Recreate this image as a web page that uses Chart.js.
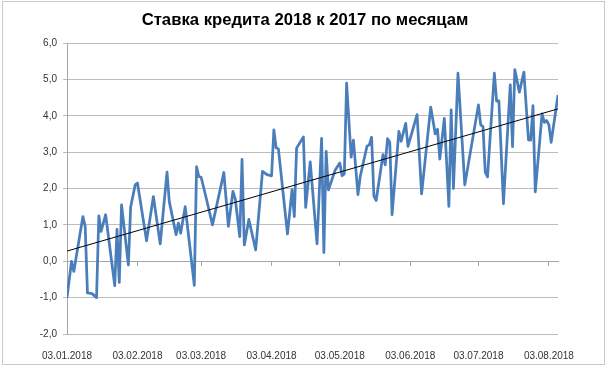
<!DOCTYPE html>
<html>
<head>
<meta charset="utf-8">
<script src="https://cdn.jsdelivr.net/npm/chart.js@4/dist/chart.umd.min.js"></script>
<style>
  html,body{margin:0;padding:0;background:#fff;}
  #wrap{position:relative;width:610px;height:374px;}
  #frame{position:absolute;left:2px;top:1px;width:601px;height:362px;border:1px solid #c8c8c8;}
  #chart{position:absolute;left:0;top:0;}
</style>
</head>
<body>
<div id="wrap">
  <div id="frame"></div>
  <canvas id="chart" width="610" height="374"></canvas>
</div>
<script>
// дни от 03.01.2018
const days = [
  0,2,3,7,8,9,11,13,14,15,
  17,21,22,23,24,27,28,30,31,35,
  38,41,44,45,48,49,50,52,56,57,
  58,59,61,64,69,71,73,74,76,77,
  78,80,83,86,88,90,91,92,93,97,
  99,100,101,104,105,107,110,112,113,114,
  115,118,120,121,122,123,125,126,128,129,
  132,133,134,135,136,139,140,141,142,143,
  146,147,149,150,154,156,160,162,163,164,
  166,168,169,170,172,175,181,182,183,184,
  185,188,189,190,192,195,196,197,199,201,
  203,204,205,206,209,210,211,212,213,216
];

// ставка 2018 к 2017
const rates = [
  -1.0,0.0,-0.28,1.23,0.96,-0.87,-0.89,-1.0,1.25,0.82,
  1.28,-0.67,0.88,-0.58,1.55,-0.1,1.49,2.1,2.15,0.56,
  1.78,0.48,2.45,1.64,0.73,1.05,0.77,1.5,-0.66,2.6,
  2.33,2.31,1.8,1.0,2.44,0.96,1.92,1.72,0.68,2.8,
  0.45,1.15,0.31,2.47,2.38,2.35,3.61,3.12,3.09,0.75,
  1.97,1.23,3.11,3.42,1.48,2.73,0.48,3.38,0.24,3.02,
  1.96,2.51,2.7,2.35,2.4,4.9,2.86,3.33,1.83,2.33,
  3.17,3.2,3.41,1.8,1.67,2.93,2.65,3.37,3.27,1.28,
  3.57,3.3,3.79,3.16,4.03,1.85,4.24,3.5,3.63,2.81,
  3.93,1.51,4.16,2.0,5.17,2.1,4.3,3.75,3.7,2.45,
  2.32,5.17,4.4,4.41,1.58,4.85,3.15,5.27,4.65,5.2,
  3.34,3.33,4.28,1.91,4.05,3.82,3.87,3.75,3.27,4.57
];

// линия тренда (концы)
const trendDays = [0, 216];
const trendValues = [0.28, 4.19];

const tickDays = [0,31,59,90,120,151,181,212];
const tickLabels = ["03.01.2018","03.02.2018","03.03.2018","03.04.2018",
                    "03.05.2018","03.06.2018","03.07.2018","03.08.2018"];

const gridColor = "#bdbdbd";
const axisColor = "#a6a6a6";

function monthTicks(s){
  s.ticks = tickDays.map(v=>({value:v}));
}

new Chart(document.getElementById("chart"),{
  type:"line",
  data:{
    datasets:[
      {
        data: days.map((d,i)=>({x:d, y:rates[i]})),
        borderColor:"#4a7ebb",
        borderWidth:2.75,
        pointRadius:0,
        tension:0,
        borderJoinStyle:"round",
        order:2
      },
      {
        data: trendDays.map((d,i)=>({x:d, y:trendValues[i]})),
        borderColor:"#000",
        borderWidth:1,
        pointRadius:0,
        order:1
      }
    ]
  },
  options:{
    responsive:false,
    animation:false,
    devicePixelRatio:1,
    layout:{padding:{left:0, right:0, top:0, bottom:10}},
    plugins:{
      legend:{display:false},
      tooltip:{enabled:false},
      title:{
        display:true,
        text:"Ставка кредита 2018 к 2017 по месяцам",
        color:"#000",
        font:{family:"Liberation Sans", size:16.7, weight:"bold", lineHeight:1.2},
        padding:{top:10, bottom:13}
      }
    },
    scales:{
      x:{
        type:"linear",
        min:0, max:216,
        afterBuildTicks:monthTicks,
        afterFit:s=>{ s.height = 30; },
        grid:{display:false},
        border:{display:false},
        ticks:{
          autoSkip:false,
          maxRotation:0,
          padding:8,
          color:"#333",
          font:{family:"Liberation Sans", size:10},
          callback:v=>tickLabels[tickDays.indexOf(v)] ?? ""
        }
      },
      x0:{
        type:"linear",
        position:{y:0},
        min:0, max:216,
        afterBuildTicks:monthTicks,
        grid:{drawOnChartArea:false, drawTicks:true, tickLength:4, color:axisColor},
        border:{display:true, color:axisColor},
        ticks:{display:false}
      },
      y:{
        min:-2, max:6,
        afterFit:s=>{ s.width = 67; },
        grid:{color:gridColor, tickLength:4},
        border:{color:axisColor},
        ticks:{
          stepSize:1,
          padding:6,
          color:"#333",
          font:{family:"Liberation Sans", size:10},
          callback:v=>v.toFixed(1).replace(".", ",")
        }
      },
      // пустое место справа
      yR:{
        position:"right",
        min:-2, max:6,
        afterFit:s=>{ s.width = 52; },
        grid:{display:false},
        border:{display:false},
        ticks:{display:false}
      }
    }
  }
});
</script>
</body>
</html>
